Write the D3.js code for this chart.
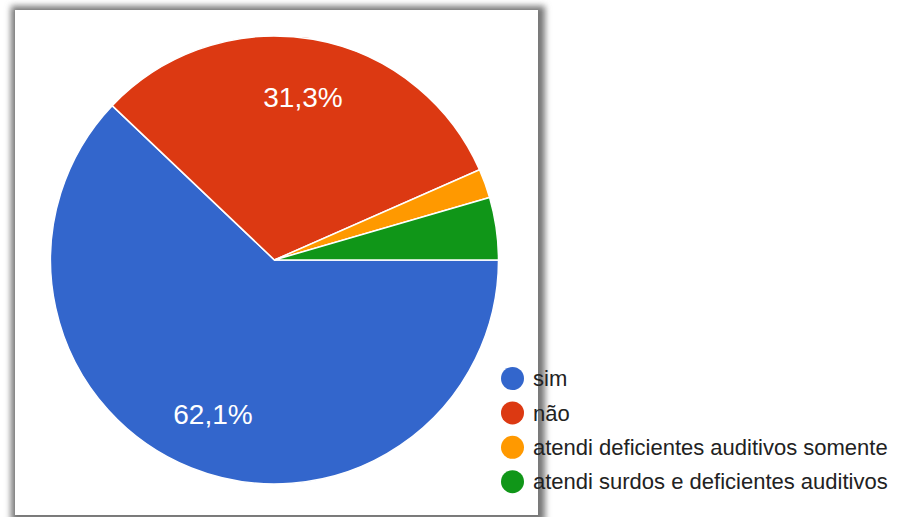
<!DOCTYPE html>
<html>
<head>
<meta charset="utf-8">
<script src="https://cdn.jsdelivr.net/npm/d3@7/dist/d3.min.js"></script>
<style>
  html, body { margin: 0; padding: 0; background: #fff; }
  svg { display: block; }
</style>
</head>
<body>
<svg id="chart" width="901" height="517"></svg>
<script>
// Answers and their share of responses (%)
const categories = ["sim", "não", "atendi deficientes auditivos somente", "atendi surdos e deficientes auditivos"];
const values = [62.1, 31.3, 2.1, 4.5];
const colors = ["#3366cc", "#dc3912", "#ff9900", "#109618"];
const sliceLabels = ["62,1%", "31,3%", "", ""];

const svg = d3.select("#chart");
const font = "'Liberation Sans', Arial, sans-serif";

// Card with soft shadow
const defs = svg.append("defs");
const blur = defs.append("filter").attr("id", "shadow")
  .attr("x", "-10%").attr("y", "-10%").attr("width", "120%").attr("height", "120%");
blur.append("feGaussianBlur").attr("stdDeviation", 3.2);

svg.append("rect")
  .attr("x", 11).attr("y", 6).attr("width", 534).attr("height", 516)
  .attr("fill", "#777").attr("filter", "url(#shadow)");
svg.append("rect")
  .attr("x", 15).attr("y", 10).attr("width", 523).attr("height", 505)
  .attr("fill", "#fff");

// Pie
const cx = 274.5, cy = 260, r = 224;
const pie = d3.pie().sort(null).value(d => d)
  .startAngle(Math.PI / 2).endAngle(Math.PI / 2 + 2 * Math.PI);
const arcs = pie(values);
const arc = d3.arc().innerRadius(0).outerRadius(r);
const labelArc = d3.arc().innerRadius(r * 0.74).outerRadius(r * 0.74);

const g = svg.append("g").attr("transform", `translate(${cx},${cy})`);
g.selectAll("path.slice").data(arcs).enter().append("path")
  .attr("class", "slice")
  .attr("d", arc)
  .attr("fill", (d, i) => colors[i])
  .attr("stroke", "#fff").attr("stroke-width", 1.5);

g.selectAll("text.pct").data(arcs).enter().append("text")
  .attr("class", "pct")
  .attr("transform", d => `translate(${labelArc.centroid(d)})`)
  .attr("text-anchor", "middle").attr("dy", "0.35em")
  .attr("fill", "#fff")
  .style("font-family", font).style("font-size", "28px")
  .text((d, i) => sliceLabels[i]);

// Legend
const legend = svg.append("g").attr("transform", "translate(512.5,378.5)");
const rowH = 34.4;
const items = legend.selectAll("g").data(categories).enter().append("g")
  .attr("transform", (d, i) => `translate(0,${i * rowH})`);
items.append("circle").attr("r", 11.5).attr("fill", (d, i) => colors[i]);
items.append("text")
  .attr("x", 20.5).attr("dy", "0.35em")
  .attr("fill", "#222")
  .style("font-family", font).style("font-size", "22px")
  .text(d => d);
</script>
</body>
</html>
